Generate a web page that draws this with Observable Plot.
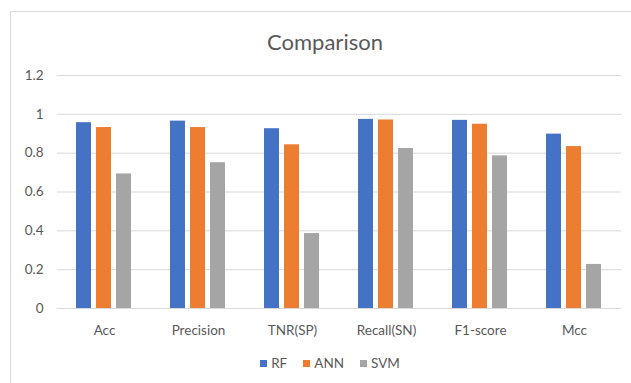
<!DOCTYPE html>
<html><head><meta charset="utf-8">
<script src="https://cdn.jsdelivr.net/npm/d3@7"></script>
<script src="https://cdn.jsdelivr.net/npm/@observablehq/plot@0.6"></script>
<style>
body{margin:0;background:#fff;font-family:Lato,sans-serif;}
#wrap{position:relative;width:631px;height:383px;overflow:hidden;background:#fff;}
#frame{position:absolute;left:10px;top:11px;width:640px;height:400px;border:1px solid #d9d9d9;box-sizing:border-box;}
#title{position:absolute;top:30px;left:0;width:650px;text-align:center;font-size:22px;color:#595959;line-height:24px;}
#chart{position:absolute;left:0;top:0;}
#legend{position:absolute;top:355px;left:0;width:660px;display:flex;justify-content:center;font-size:13.5px;color:#595959;line-height:16px;}
#legend .it{display:flex;align-items:center;margin:0 8px;}
#legend .sw{width:7px;height:7px;margin-right:4px;}
</style></head>
<body><div id="wrap"><div id="frame"></div><div id="title">Comparison</div><div id="chart"></div><div id="legend"></div></div>
<script>
const categories = ["Acc","Precision","TNR(SP)","Recall(SN)","F1-score","Mcc"];
const models = ["RF","ANN","SVM"];
const colors = ["#4472C4","#ED7D31","#A5A5A5"];
const rf  = [0.957,0.965,0.926,0.974,0.969,0.898];
const ann = [0.932,0.932,0.843,0.971,0.949,0.834];
const svm = [0.693,0.751,0.386,0.824,0.786,0.227];
const yTicks = [0,0.2,0.4,0.6,0.8,1,1.2];

const series = [rf, ann, svm];
const data = [];
categories.forEach((c,i)=>models.forEach((m,j)=>data.push({cat:c, model:m, value:series[j][i]})));

const H = 345;
const chart = Plot.plot({
  width:631, height:H,
  marginLeft:56, marginRight:9, marginTop:75, marginBottom:H-308,
  style:{fontSize:"13.5px", fontFamily:"Lato, sans-serif", color:"#595959", background:"transparent"},
  fx:{domain:categories, padding:0, label:null, tickSize:0, tickPadding:17, axis:"bottom"},
  x:{domain:models, axis:null, paddingInner:0.238, paddingOuter:0.867},
  y:{domain:[0,1.2], ticks:yTicks, tickFormat:d=>String(+d.toFixed(1)), label:null, tickSize:0, tickPadding:14},
  color:{domain:models, range:colors},
  marks:[
    Plot.ruleY(yTicks,{stroke:"#d9d9d9", strokeWidth:1}),
    Plot.barY(data,{fx:"cat", x:"model", y:"value", fill:"model"})
  ]
});
document.getElementById("chart").appendChild(chart);

const leg = document.getElementById("legend");
models.forEach((m,j)=>{
  const it = document.createElement("div"); it.className="it";
  const sw = document.createElement("div"); sw.className="sw"; sw.style.background=colors[j];
  const t = document.createElement("span"); t.textContent=m;
  it.appendChild(sw); it.appendChild(t); leg.appendChild(it);
});
</script></body></html>
